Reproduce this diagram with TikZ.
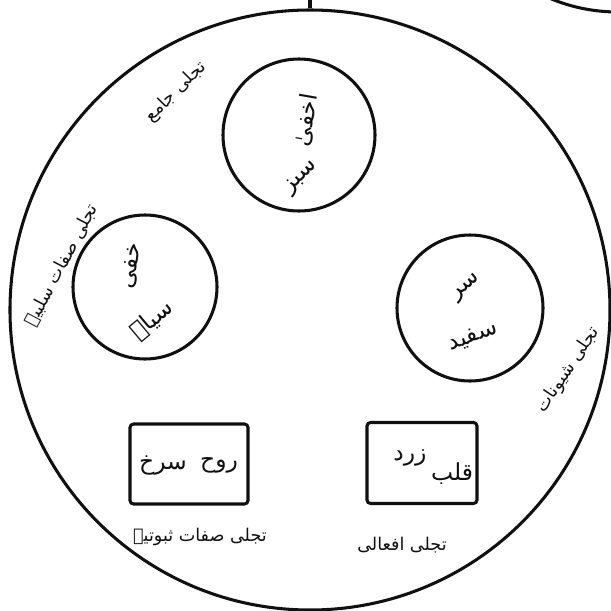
\documentclass[tikz,border=0pt]{standalone}
\usepackage{fontspec}
\newfontfamily\urdufont[Script=Arabic]{DejaVu Sans}
\TeXXeTstate=1
\usepackage{xcolor}
\definecolor{cInk}{HTML}{101010}
\usetikzlibrary{positioning}
\newcommand{\urd}[1]{{\urdufont\beginR #1\endR}}
\tikzset{
  node-latifa/.style={draw=cInk,line width=2.6pt,circle,inner sep=0pt},
  node-box/.style={draw=cInk,line width=2.6pt,rounded corners=3pt,inner sep=0pt},
  label-word/.style={font=\fontsize{20}{22}\selectfont,inner sep=0pt,text=cInk},
  label-tajalli/.style={font=\fontsize{15}{17}\selectfont,inner sep=0pt,text=cInk},
  link/.style={draw=cInk,line width=2.6pt},
}
\begin{document}
\begin{tikzpicture}[x=0.3mm,y=-0.3mm]
  \useasboundingbox (0,0) rectangle (611,611);
  \begin{scope}
    \clip (0,0) rectangle (611,611);
    \node[node-latifa,minimum size=105.6mm] (upper) at (618,-164) {};
  \end{scope}
  \node[node-latifa,minimum size=180mm] (dil) at (310,310) {};
  \coordinate (top-end) at (310,-2);
  \draw[link] (dil.north) -- (top-end);

  % lataif
  \node[node-latifa,minimum size=45.6mm] (akhfa) at (299,135) {};
  \node[node-latifa,minimum size=43.2mm] (khafi) at (145,287) {};
  \node[node-latifa,minimum size=43.8mm] (sirr)  at (470,308) {};
  \node[node-box,minimum width=35.4mm,minimum height=24mm] (ruh)  at (189,464) {};
  \node[node-box,minimum width=33mm,minimum height=24.3mm]  (qalb) at (422,463) {};

  \node[label-word,rotate=80] at (306,120) {\urd{اخفیٰ}};
  \node[label-word,rotate=45] at (302,178) {\urd{سبز}};
  \node[label-word,rotate=80] at (132,266) {\urd{خفی}};
  \node[label-word,rotate=40] at (152,320) {\urd{سیاہ}};
  \node[label-word,rotate=42] at (467,288) {\urd{سر}};
  \node[label-word,rotate=20] at (473,337) {\urd{سفید}};
  \node[label-word] at (219,465) {\urd{روح}};
  \node[label-word] at (163,465) {\urd{سرخ}};
  \node[label-word] at (452,474) {\urd{قلب}};
  \node[label-word] at (410,458) {\urd{زرد}};

  \node[label-tajalli,rotate=45] at (176,92)  {\urd{تجلی جامع}};
  \node[label-tajalli,rotate=62] at (62,265)  {\urd{تجلی صفات سلبیہ}};
  \node[label-tajalli,rotate=56] at (568,370) {\urd{تجلی شیونات}};
  \node[label-tajalli] at (200,537) {\urd{تجلی صفات ثبوتیہ}};
  \node[label-tajalli] at (402,545) {\urd{تجلی افعالی}};
\end{tikzpicture}
\end{document}
